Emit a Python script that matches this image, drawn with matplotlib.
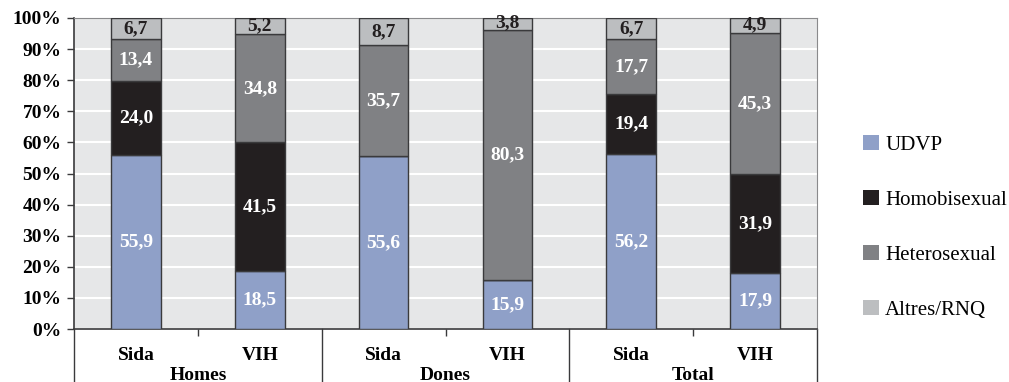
import numpy as np
import matplotlib.pyplot as plt
import matplotlib.transforms as mtransforms
from matplotlib.patches import Patch

plt.rcParams['font.family'] = ['Liberation Serif', 'DejaVu Serif']
plt.rcParams['font.weight'] = 'bold'

bars = ['Sida', 'VIH', 'Sida', 'VIH', 'Sida', 'VIH']
groups = ['Homes', 'Dones', 'Total']
series = ['UDVP', 'Homobisexual', 'Heterosexual', 'Altres/RNQ']
udvp = [55.9, 18.5, 55.6, 15.9, 56.2, 17.9]
homobi = [24.0, 41.5, 0.0, 0.0, 19.4, 31.9]
hetero = [13.4, 34.8, 35.7, 80.3, 17.7, 45.3]
altres = [6.7, 5.2, 8.7, 3.8, 6.7, 4.9]

colors = ['#8fa0c8', '#231f20', '#808184', '#bcbec0']
text_colors = ['white', 'white', 'white', '#231f20']

fig = plt.figure(figsize=(10.09, 3.82), dpi=100)
ax = fig.add_axes([74 / 1009, 53 / 382, 743 / 1009, 311 / 382])
ax.set_facecolor('#e6e7e8')

x = np.arange(len(bars))
bottom = np.zeros(len(bars))
for vals, c, tc in zip([udvp, homobi, hetero, altres], colors, text_colors):
    vals = np.array(vals)
    ax.bar(x, vals, 0.4, bottom=bottom, color=c, edgecolor='#3a3a3c', linewidth=1, zorder=3)
    for xi, b, v in zip(x, bottom, vals):
        if v > 0:
            y = b + v / 2
            if v < 5:
                y = b + v / 2 + 0.3
            ax.text(xi, y, f'{v:.1f}'.replace('.', ','), ha='center', va='center',
                    color=tc, fontsize=14, zorder=4)
    bottom += vals

ax.set_xlim(-0.5, 5.5)
ax.set_ylim(0, 100)
ax.set_yticks(np.arange(0, 101, 10))
ax.set_yticklabels([f'{v}%' for v in range(0, 101, 10)], fontsize=14)
ax.yaxis.grid(True, color='white', linewidth=1.5, zorder=0)
ax.set_axisbelow(True)
ax.tick_params(axis='y', length=5, width=1, color='#3a3a3c', pad=4)

ax.set_xticks(x)
ax.set_xticklabels(bars, fontsize=14)
ax.tick_params(axis='x', length=0, pad=13)
ax.set_xticks([0.5, 2.5, 4.5], minor=True)
ax.tick_params(axis='x', which='minor', length=5, width=1, color='#3a3a3c')

for s in ['top', 'right']:
    ax.spines[s].set_color('#8a8a8c')
for s in ['left', 'bottom']:
    ax.spines[s].set_color('#3a3a3c')
    ax.spines[s].set_linewidth(1.2)

# group separators running down past the axis
trans = mtransforms.blended_transform_factory(ax.transData, ax.transAxes)
for xs in [-0.5, 1.5, 3.5, 5.5]:
    ax.plot([xs, xs], [0, -0.2], transform=trans, color='#3a3a3c', linewidth=1, clip_on=False)
for gi, g in enumerate(groups):
    ax.text(2 * gi + 0.5, -0.122, g, transform=trans, ha='center', va='top', fontsize=14)

handles = [Patch(facecolor=c, edgecolor='none') for c in colors]
leg = fig.legend(handles, series, loc='center left', bbox_to_anchor=(0.837, 0.405), frameon=False,
                 fontsize=15, handlelength=0.75, handleheight=0.75, handletextpad=0.3,
                 labelspacing=1.68)
for t in leg.get_texts():
    t.set_fontweight('normal')

fig.savefig('out.png', dpi=100)
